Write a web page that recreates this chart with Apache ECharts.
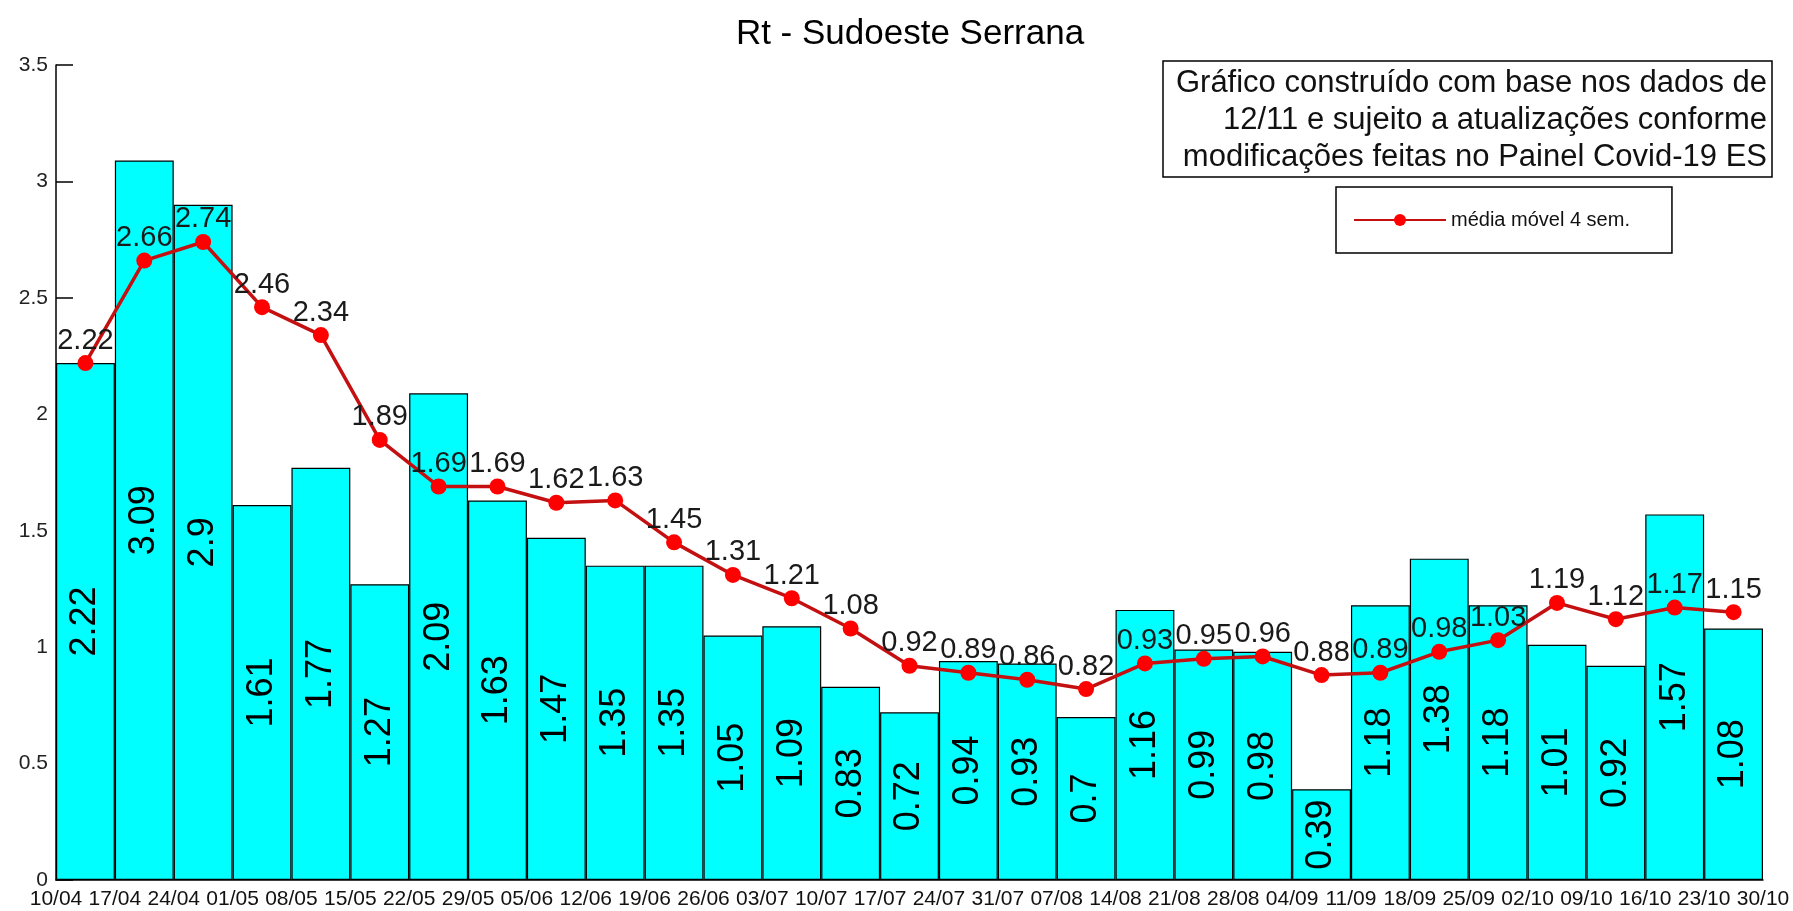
<!DOCTYPE html>
<html><head><meta charset="utf-8">
<script src="https://cdn.jsdelivr.net/npm/echarts@6/dist/echarts.min.js"></script>
<style>html,body{margin:0;padding:0;background:#fff}#c{width:1793px;height:911px}</style>
</head><body><div id="c"></div>
<script>
const dates = ['10/04','17/04','24/04','01/05','08/05','15/05','22/05','29/05','05/06','12/06','19/06','26/06','03/07','10/07','17/07','24/07','31/07','07/08','14/08','21/08','28/08','04/09','11/09','18/09','25/09','02/10','09/10','16/10','23/10','30/10'];
const rtWeekly = [2.22,3.09,2.9,1.61,1.77,1.27,2.09,1.63,1.47,1.35,1.35,1.05,1.09,0.83,0.72,0.94,0.93,0.7,1.16,0.99,0.98,0.39,1.18,1.38,1.18,1.01,0.92,1.57,1.08];
const movingAvg4 = [2.22,2.66,2.74,2.46,2.34,1.89,1.69,1.69,1.62,1.63,1.45,1.31,1.21,1.08,0.92,0.89,0.86,0.82,0.93,0.95,0.96,0.88,0.89,0.98,1.03,1.19,1.12,1.17,1.15];
const titleText = 'Rt - Sudoeste Serrana';
const noteText = 'Gráfico construído com base nos dados de\n12/11 e sujeito a atualizações conforme\nmodificações feitas no Painel Covid-19 ES';
const lineName = 'média móvel 4 sem.';

const FF = '"Liberation Sans", Arial, sans-serif';
const chart = echarts.init(document.getElementById('c'));
chart.setOption({
  animation: false,
  backgroundColor: '#fff',
  textStyle: { fontFamily: FF },
  grid: { left: 56, right: 30, top: 65, bottom: 31 },
  xAxis: {
    type: 'value', min: 0, max: dates.length - 1, interval: 1,
    axisLine: { show: true, onZero: false, lineStyle: { color: '#000', width: 1.5 } },
    axisTick: { show: false },
    splitLine: { show: false },
    axisLabel: {
      margin: 9, fontSize: 21, color: '#111', fontFamily: FF,
      showMinLabel: true, showMaxLabel: true,
      formatter: v => dates[Math.round(v)] || ''
    }
  },
  yAxis: {
    type: 'value', min: 0, max: 3.5, interval: 0.5,
    axisLine: { show: true, lineStyle: { color: '#000', width: 1.5 } },
    axisTick: { show: true, inside: true, length: 17, lineStyle: { color: '#000', width: 1.5 } },
    splitLine: { show: false },
    axisLabel: { margin: 8, fontSize: 21, color: '#222', fontFamily: FF }
  },
  legend: {
    data: [lineName],
    left: 1336, top: 187,
    padding: [23, 42, 23, 17],
    borderColor: '#000', borderWidth: 1.5,
    backgroundColor: '#fff',
    itemWidth: 92, itemHeight: 15,
    textStyle: { fontSize: 20, color: '#111', fontFamily: FF }
  },
  graphic: [
    { type: 'text', x: 910, y: 34, z: 10,
      style: { text: titleText, fontSize: 35, fontFamily: FF, fill: '#000', align: 'center', verticalAlign: 'middle' } },
    { type: 'rect', shape: { x: 1163, y: 61, width: 609, height: 116 }, z: 10,
      style: { fill: '#fff', stroke: '#000', lineWidth: 1.5 } },
    { type: 'text', x: 1767, y: 65, z: 11,
      style: { text: noteText, fontSize: 31, lineHeight: 37, fontFamily: FF, fill: '#111', align: 'right', verticalAlign: 'top' } }
  ],
  series: [
    {
      type: 'bar', name: 'Rt',
      data: rtWeekly.map((v, i) => [i + 0.5, v]),
      barWidth: '100%',
      itemStyle: { color: '#00FFFF', borderColor: '#000', borderWidth: 1.2 },
      label: {
        show: true, position: 'inside', rotate: 90,
        fontSize: 36, color: '#000', fontFamily: FF,
        formatter: p => String(p.value[1])
      },
      z: 2
    },
    {
      type: 'line', name: lineName,
      data: movingAvg4.map((v, i) => [i + 0.5, v]),
      symbol: 'circle', symbolSize: 16,
      lineStyle: { color: '#C41010', width: 3.5 },
      itemStyle: { color: '#FF0000' },
      label: {
        show: true, position: 'top', distance: 0,
        fontSize: 29, color: '#1a1a1a', fontFamily: FF,
        formatter: p => String(p.value[1])
      },
      z: 5
    }
  ]
});
</script></body></html>
